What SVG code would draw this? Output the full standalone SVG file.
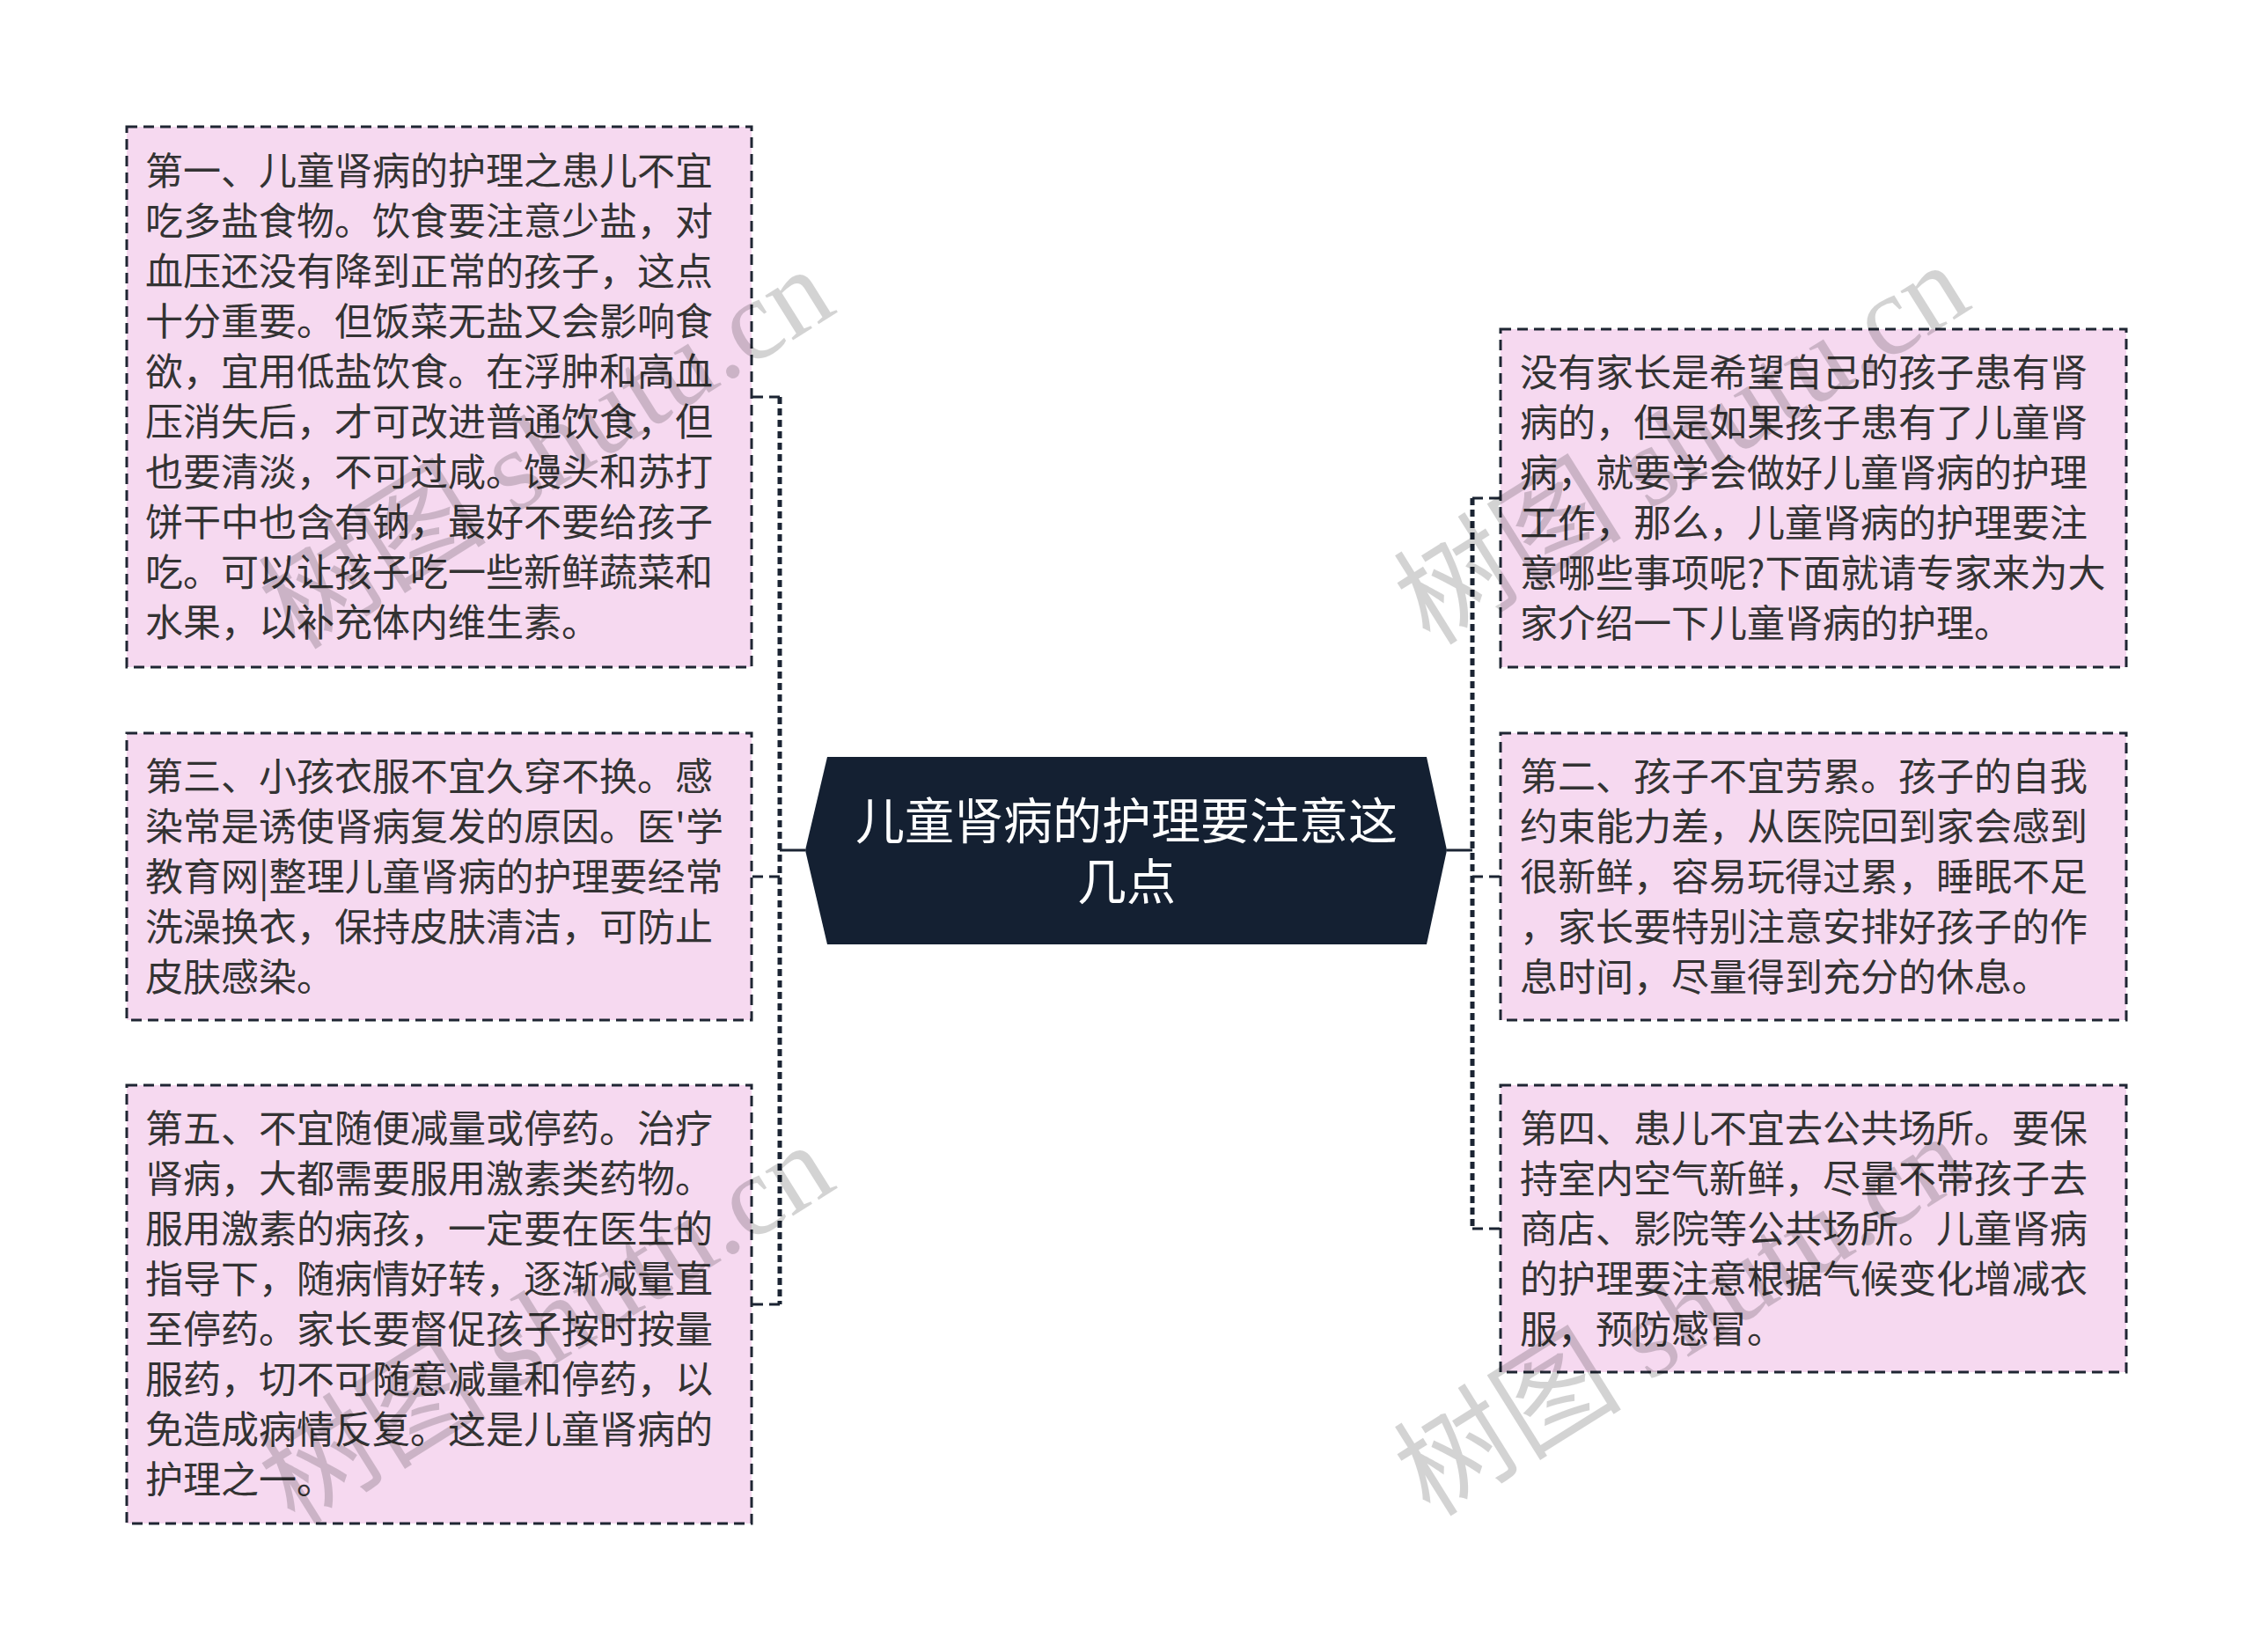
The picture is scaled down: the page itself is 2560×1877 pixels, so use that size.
<svg xmlns="http://www.w3.org/2000/svg" width="2560" height="1877" viewBox="0 0 2560 1877">
<style>
.box{fill:#f6d9f0;stroke:#1f2633;stroke-width:3;stroke-dasharray:12 7;}
.t{font-family:"Noto Sans CJK SC","Noto Sans",sans-serif;font-size:43px;fill:#333333;}
.ct{font-family:"Noto Sans CJK SC","Noto Sans",sans-serif;font-size:56px;fill:#ffffff;text-anchor:middle;}
.solid{stroke:#1b2433;stroke-width:3;fill:none;}
.spine{stroke:#1b2433;stroke-width:5;fill:none;stroke-dasharray:8 5;}
.br{stroke:#1b2433;stroke-width:3;fill:none;stroke-dasharray:12 7;}
.wm{font-family:"Liberation Serif","Noto Sans CJK SC",serif;font-size:130px;fill:#000000;opacity:0.17;}
</style>
<rect x="0" y="0" width="2560" height="1877" fill="#ffffff"/>
<g id="connectors">
<line class="solid" x1="915" y1="966" x2="886" y2="966"/>
<line class="spine" x1="886" y1="451" x2="886" y2="1482"/>
<line class="br" x1="886" y1="451" x2="854" y2="451"/>
<line class="br" x1="886" y1="996" x2="854" y2="996"/>
<line class="br" x1="886" y1="1482" x2="854" y2="1482"/>
<line class="solid" x1="1644" y1="966" x2="1673" y2="966"/>
<line class="spine" x1="1673" y1="566" x2="1673" y2="1396"/>
<line class="br" x1="1673" y1="566" x2="1705" y2="566"/>
<line class="br" x1="1673" y1="996" x2="1705" y2="996"/>
<line class="br" x1="1673" y1="1396" x2="1705" y2="1396"/>
</g>
<g id="center">
<polygon points="940,860 1621,860 1644,966 1621,1073 940,1073 915,966" fill="#142032"/>
<text class="ct"><tspan x="1280" y="953">儿童肾病的护理要注意这</tspan><tspan x="1280" y="1022">几点</tspan></text>
</g>
<g id="node-l1">
<rect class="box" x="144" y="144" width="710" height="614"/>
<text class="t"><tspan x="165" y="210">第一、儿童肾病的护理之患儿不宜</tspan><tspan x="165" y="267">吃多盐食物。饮食要注意少盐，对</tspan><tspan x="165" y="324">血压还没有降到正常的孩子，这点</tspan><tspan x="165" y="381">十分重要。但饭菜无盐又会影响食</tspan><tspan x="165" y="438">欲，宜用低盐饮食。在浮肿和高血</tspan><tspan x="165" y="495">压消失后，才可改进普通饮食，但</tspan><tspan x="165" y="552">也要清淡，不可过咸。馒头和苏打</tspan><tspan x="165" y="609">饼干中也含有钠，最好不要给孩子</tspan><tspan x="165" y="666">吃。可以让孩子吃一些新鲜蔬菜和</tspan><tspan x="165" y="723">水果，以补充体内维生素。</tspan></text>
</g>
<g id="node-l2">
<rect class="box" x="144" y="833" width="710" height="326"/>
<text class="t"><tspan x="165" y="898">第三、小孩衣服不宜久穿不换。感</tspan><tspan x="165" y="955">染常是诱使肾病复发的原因。医'学</tspan><tspan x="165" y="1012">教育网|整理儿童肾病的护理要经常</tspan><tspan x="165" y="1069">洗澡换衣，保持皮肤清洁，可防止</tspan><tspan x="165" y="1126">皮肤感染。</tspan></text>
</g>
<g id="node-l3">
<rect class="box" x="144" y="1233" width="710" height="498"/>
<text class="t"><tspan x="165" y="1298">第五、不宜随便减量或停药。治疗</tspan><tspan x="165" y="1355">肾病，大都需要服用激素类药物。</tspan><tspan x="165" y="1412">服用激素的病孩，一定要在医生的</tspan><tspan x="165" y="1469">指导下，随病情好转，逐渐减量直</tspan><tspan x="165" y="1526">至停药。家长要督促孩子按时按量</tspan><tspan x="165" y="1583">服药，切不可随意减量和停药，以</tspan><tspan x="165" y="1640">免造成病情反复。这是儿童肾病的</tspan><tspan x="165" y="1697">护理之一。</tspan></text>
</g>
<g id="node-r1">
<rect class="box" x="1705" y="374" width="711" height="384"/>
<text class="t"><tspan x="1727" y="439">没有家长是希望自己的孩子患有肾</tspan><tspan x="1727" y="496">病的，但是如果孩子患有了儿童肾</tspan><tspan x="1727" y="553">病，就要学会做好儿童肾病的护理</tspan><tspan x="1727" y="610">工作，那么，儿童肾病的护理要注</tspan><tspan x="1727" y="667">意哪些事项呢?下面就请专家来为大</tspan><tspan x="1727" y="724">家介绍一下儿童肾病的护理。</tspan></text>
</g>
<g id="node-r2">
<rect class="box" x="1705" y="833" width="711" height="326"/>
<text class="t"><tspan x="1727" y="898">第二、孩子不宜劳累。孩子的自我</tspan><tspan x="1727" y="955">约束能力差，从医院回到家会感到</tspan><tspan x="1727" y="1012">很新鲜，容易玩得过累，睡眠不足</tspan><tspan x="1727" y="1069">，家长要特别注意安排好孩子的作</tspan><tspan x="1727" y="1126">息时间，尽量得到充分的休息。</tspan></text>
</g>
<g id="node-r3">
<rect class="box" x="1705" y="1233" width="711" height="326"/>
<text class="t"><tspan x="1727" y="1298">第四、患儿不宜去公共场所。要保</tspan><tspan x="1727" y="1355">持室内空气新鲜，尽量不带孩子去</tspan><tspan x="1727" y="1412">商店、影院等公共场所。儿童肾病</tspan><tspan x="1727" y="1469">的护理要注意根据气候变化增减衣</tspan><tspan x="1727" y="1526">服，预防感冒。</tspan></text>
</g>
<g id="watermarks">
<text class="wm" transform="translate(335,740) rotate(-32)">树图 shutu.cn</text>
<text class="wm" transform="translate(335,1735) rotate(-32)">树图 shutu.cn</text>
<text class="wm" transform="translate(1625,735) rotate(-32)">树图 shutu.cn</text>
<text class="wm" transform="translate(1625,1725) rotate(-32)">树图 shutu.cn</text>
</g>
</svg>
